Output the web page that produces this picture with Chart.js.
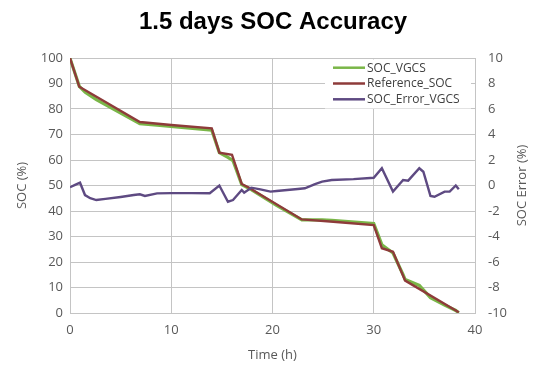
<!DOCTYPE html>
<html>
<head>
<meta charset="utf-8">
<script src="https://cdn.jsdelivr.net/npm/chart.js@4/dist/chart.umd.min.js"></script>
<style>
  html, body { margin: 0; padding: 0; background: #ffffff; }
  #wrap { width: 546px; height: 368px; }
</style>
</head>
<body>
<div id="wrap"><canvas id="c" width="546" height="368"></canvas></div>
<script>
// ---- data ----
const chartTitle = "1.5 days SOC Accuracy";
const seriesLabels = ["SOC_VGCS", "Reference_SOC", "SOC_Error_VGCS"];
const axisTitles = ["Time (h)", "SOC (%)", "SOC Error (%)"];

const timeRef = [0, 0.92, 6.9, 10, 14.0, 14.75, 16.0, 16.96, 17.6, 22.9, 26, 30.0, 30.8, 31.9, 33.1, 38.4];
const socRef  = [100, 88.7, 74.9, 73.7, 72.4, 62.9, 62.0, 50.6, 49.3, 36.7, 35.8, 34.5, 25.4, 24.0, 12.7, 0.3];

const timeVgcs = [0, 0.92, 1.5, 2.6, 6.9, 8.6, 14.0, 14.75, 15.6, 16.1, 16.96, 17.9, 20.4, 22.9, 24.9, 25.85, 30.0, 30.8, 31.9, 32.9, 33.1, 34.5, 35.6, 37.0, 38.1, 38.4];
const socVgcs  = [99.9, 88.9, 86.6, 83.7, 74.2, 73.7, 71.7, 62.9, 61.0, 59.7, 50.3, 48.4, 42.2, 36.5, 36.5, 36.3, 35.1, 26.8, 23.5, 15.0, 13.1, 10.8, 6.0, 3.1, 1.0, 0.0];

const timeErr = [0, 0.5, 0.99, 1.48, 2.0, 2.6, 3.5, 5, 6.3, 6.9, 7.4, 8.6, 10, 12, 13.8, 14.75, 15.6, 16.1, 16.96, 17.2, 17.9, 18.8, 19.8, 20.4, 22.5, 23.2, 24.2, 24.9, 25.85, 28, 30.0, 30.8, 31.9, 32.9, 33.4, 34.5, 34.9, 35.6, 36.0, 37.0, 37.5, 38.1, 38.4];
const socErr  = [-0.14, 0.05, 0.22, -0.75, -1.0, -1.14, -1.05, -0.9, -0.75, -0.69, -0.82, -0.62, -0.6, -0.6, -0.61, 0.0, -1.27, -1.14, -0.35, -0.56, -0.17, -0.3, -0.48, -0.43, -0.27, -0.22, 0.1, 0.3, 0.43, 0.5, 0.61, 1.35, -0.48, 0.43, 0.38, 1.35, 1.08, -0.82, -0.88, -0.48, -0.48, 0.0, -0.3];

const xTicksStep = 10, socMin = 0, socMax = 100, socStep = 10, errMin = -10, errMax = 10, errStep = 2, timeMin = 0, timeMax = 40;

// ---- styling ----
const colGreen = "#7AB648";
const colRed = "#8E3B3A";
const colPurple = "#5E4A82";
const gridCol = "#C4C4C4";
const tickCol = "#595959";
const fontFam = "'Open Sans', 'DejaVu Sans', sans-serif";

function pts(xs, ys) { return xs.map((x, i) => ({ x: x, y: ys[i] })); }

const legendPlugin = {
  id: 'boxLegend',
  afterDatasetsDraw(chart) {
    const ctx = chart.ctx;
    const ds = chart.data.datasets;
    ctx.save();
    ctx.fillStyle = "#ffffff";
    ctx.fillRect(325, 59.5, 146, 49);
    ctx.font = "12px " + fontFam;
    ctx.textBaseline = "middle";
    ctx.textAlign = "left";
    const rows = [67.7, 83.5, 99.3];
    for (let i = 0; i < ds.length; i++) {
      ctx.strokeStyle = ds[i].borderColor;
      ctx.lineWidth = 2.5;
      ctx.beginPath();
      ctx.moveTo(333, rows[i]);
      ctx.lineTo(365, rows[i]);
      ctx.stroke();
      ctx.fillStyle = "#404040";
      ctx.fillText(ds[i].label, 367, rows[i] + 0.5);
    }
    ctx.restore();
  },
  afterDraw(chart) {
    // right axis title, rotated to read bottom-to-top like the reference
    const ctx = chart.ctx;
    const s = chart.scales.y1;
    ctx.save();
    ctx.translate(s.right - 24, (s.top + s.bottom) / 2);
    ctx.rotate(-Math.PI / 2);
    ctx.font = "13px " + fontFam;
    ctx.fillStyle = tickCol;
    ctx.textAlign = "center";
    ctx.textBaseline = "middle";
    ctx.fillText(axisTitles[2], 0, 0);
    ctx.restore();
  }
};

new Chart(document.getElementById('c'), {
  type: 'line',
  data: {
    datasets: [
      { label: seriesLabels[0], data: pts(timeVgcs, socVgcs), borderColor: colGreen, backgroundColor: colGreen, borderWidth: 3.2, pointRadius: 0, yAxisID: 'y', order: 2, tension: 0 },
      { label: seriesLabels[1], data: pts(timeRef, socRef), borderColor: colRed, backgroundColor: colRed, borderWidth: 2.4, pointRadius: 0, yAxisID: 'y', order: 1, tension: 0 },
      { label: seriesLabels[2], data: pts(timeErr, socErr), borderColor: colPurple, backgroundColor: colPurple, borderWidth: 2.4, pointRadius: 0, yAxisID: 'y1', order: 0, tension: 0 }
    ]
  },
  options: {
    responsive: false,
    animation: false,
    devicePixelRatio: 1,
    layout: { padding: 0 },
    plugins: {
      legend: { display: false },
      tooltip: { enabled: false },
      title: {
        display: true,
        text: chartTitle,
        color: "#000000",
        font: { family: "'Liberation Sans', Arial, sans-serif", size: 24, weight: 'bold' },
        padding: { top: 8, bottom: 21.2 }
      }
    },
    scales: {
      x: {
        type: 'linear',
        min: timeMin, max: timeMax,
        afterFit(s) { s.height = 55; },
        ticks: { stepSize: xTicksStep, color: tickCol, font: { family: fontFam, size: 13 }, padding: 9 },
        grid: { color: gridCol, lineWidth: 1, drawTicks: false },
        border: { color: gridCol, width: 1 },
        title: { display: true, text: axisTitles[0], color: tickCol, font: { family: fontFam, size: 13 }, padding: { top: 0, bottom: 5.2 } }
      },
      y: {
        position: 'left',
        min: socMin, max: socMax,
        afterFit(s) { s.width = 70; },
        ticks: { stepSize: socStep, color: tickCol, font: { family: fontFam, size: 13 }, padding: 7 },
        grid: { color: gridCol, lineWidth: 1, drawTicks: false },
        border: { color: gridCol, width: 1 },
        title: { display: true, text: axisTitles[1], color: tickCol, font: { family: fontFam, size: 13 }, padding: { top: 14.2, bottom: 0 } }
      },
      y1: {
        position: 'right',
        min: errMin, max: errMax,
        afterFit(s) { s.width = 71; },
        ticks: { stepSize: errStep, color: tickCol, font: { family: fontFam, size: 13 }, padding: 13 },
        grid: { display: false, drawTicks: false },
        border: { color: gridCol, width: 1 },
        title: { display: false }
      }
    }
  },
  plugins: [legendPlugin]
});
</script>
</body>
</html>
